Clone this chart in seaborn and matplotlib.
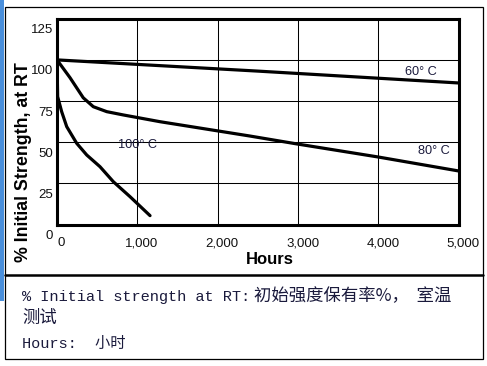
import numpy as np
import pandas as pd
import matplotlib
matplotlib.use("Agg")
import matplotlib.pyplot as plt
import matplotlib.transforms as mtransforms
from matplotlib.patches import Rectangle
from matplotlib.lines import Line2D
import seaborn as sns

# ---- data ----
hours_60 = [0, 2500, 5000]
strength_60 = [100, 93.2, 86.0]

hours_80 = [0, 162, 327, 452, 619, 825, 1282, 2402, 2987, 3996, 5000]
strength_80 = [100, 89.2, 77.0, 71.6, 68.6, 66.6, 62.5, 53.8, 49.0, 41.1, 32.6]

hours_100 = [0, 8, 58, 121, 245, 370, 535, 701, 909, 1158]
strength_100 = [100, 77.7, 68.6, 59.5, 49.4, 42.3, 35.2, 26.1, 17.0, 5.5]

series_labels = ["60° C", "80° C", "100° C"]
label_pos_hours = [4531, 4692, 1008]
label_pos_strength = [92.7, 44.7, 48.1]

x_ticks = [0, 1000, 2000, 3000, 4000, 5000]
x_tick_labels = ["0", "1,000", "2,000", "3,000", "4,000", "5,000"]
y_ticks = [0, 25, 50, 75, 100, 125]
y_tick_labels = ["0", "25", "50", "75", "100", "125"]

y_label = "% Initial Strength, at RT"
x_label = "Hours"
note_line1_a = "% Initial strength at RT:"
note_line1_b = "初始强度保有率%，  室温"
note_line2 = "测试"
note_line3 = "Hours:  小时"

# ---- build long table ----
df = pd.concat([
    pd.DataFrame({"Hours": hours_60, "Strength": strength_60, "Temp": series_labels[0]}),
    pd.DataFrame({"Hours": hours_80, "Strength": strength_80, "Temp": series_labels[1]}),
    pd.DataFrame({"Hours": hours_100, "Strength": strength_100, "Temp": series_labels[2]}),
], ignore_index=True)

sns.set_style("white")
plt.rcParams["font.family"] = ["Liberation Sans", "DejaVu Sans"]

W, H = 487, 366
fig = plt.figure(figsize=(W / 100, H / 100), dpi=100)

# axes placed in pixel coordinates
left_px, right_px, top_px, bottom_px = 57, 458.7, 18.7, 224.7
ax = fig.add_axes([left_px / W, 1 - bottom_px / H,
                   (right_px - left_px) / W, (bottom_px - top_px) / H])

sns.lineplot(data=df, x="Hours", y="Strength", hue="Temp", units="Temp",
             estimator=None, sort=False, palette=["black"] * 3,
             linewidth=2.3, legend=False, ax=ax, zorder=3)

ax.set_xlim(0, 5000)
ax.set_ylim(0, 125)
ax.set_xticks(x_ticks)
ax.set_xticklabels(x_tick_labels)
ax.set_yticks(y_ticks)
ax.set_yticklabels(y_tick_labels)
ax.set_xlabel("")
ax.set_ylabel("")
ax.grid(True, color="black", linewidth=0.75)
ax.set_axisbelow(True)
for sp in ax.spines.values():
    sp.set_visible(True)
    sp.set_color("black")
    sp.set_linewidth(2.2)
    sp.set_zorder(4)
ax.tick_params(axis="both", length=0, labelsize=9.5, colors="#111111")
ax.tick_params(axis="x", pad=9)
ax.tick_params(axis="y", pad=3)

# the reference's tick labels are shifted slightly off their grid lines
off_y = mtransforms.ScaledTranslation(0, -0.10, fig.dpi_scale_trans)
for t in ax.get_yticklabels():
    t.set_transform(t.get_transform() + off_y)
off_x = mtransforms.ScaledTranslation(0.045, 0, fig.dpi_scale_trans)
for t in ax.get_xticklabels():
    t.set_transform(t.get_transform() + off_x)

# curve labels
for lab, hx, sy in zip(series_labels, label_pos_hours, label_pos_strength):
    ax.text(hx, sy, lab, ha="center", va="center", fontsize=9.2,
            color="#1a1a3c", zorder=5)

# axis titles
fig.text(24 / W, 1 - 162 / H, y_label, rotation=90, ha="center", va="center",
         fontsize=12.8, fontweight="bold", color="black")
fig.text(269.5 / W, 1 - 264 / H, x_label, ha="center", va="baseline",
         fontsize=12, fontweight="bold", color="black")

# frame, separator and blue bar
fig.add_artist(Rectangle((5 / W, 1 - 359.3 / H), 477.7 / W, 352.3 / H,
                         transform=fig.transFigure, fill=False,
                         edgecolor="black", linewidth=0.9))
fig.add_artist(Line2D([5 / W, 482.7 / W], [1 - 274.5 / H] * 2,
                      transform=fig.transFigure, color="black", linewidth=1.8))
fig.add_artist(Rectangle((0, 1 - 301 / H), 3.5 / W, 301 / H,
                         transform=fig.transFigure, color="#4a8fdb",
                         linewidth=0))

# note text
note_color = "#1a1a3c"
fig.text(22 / W, 1 - 300.7 / H, note_line1_a, ha="left", va="baseline",
         fontsize=11, color=note_color,
         family=["Liberation Mono", "Noto Sans CJK SC"])
fig.text(254 / W, 1 - 300.7 / H, note_line1_b, ha="left", va="baseline",
         fontsize=12.5, color=note_color,
         family=["Noto Sans CJK SC", "DejaVu Sans"])
fig.text(22 / W, 1 - 323 / H, note_line2, ha="left", va="baseline",
         fontsize=12.5, color=note_color,
         family=["Noto Sans CJK SC", "DejaVu Sans"])
fig.text(22 / W, 1 - 348.3 / H, note_line3, ha="left", va="baseline",
         fontsize=11, color=note_color,
         family=["Liberation Mono", "Noto Sans CJK SC"])

fig.savefig("out.png", dpi=100, facecolor="white")
